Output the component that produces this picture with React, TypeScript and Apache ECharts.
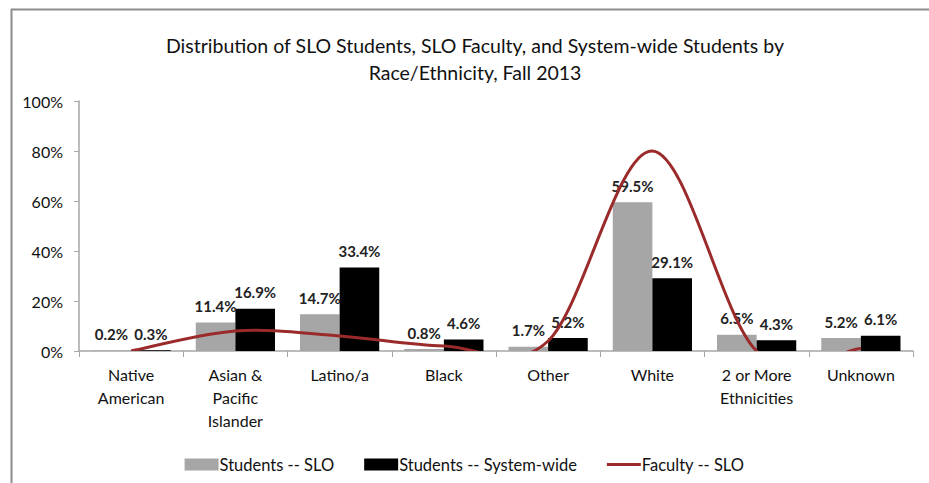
import React, { useEffect, useRef } from "react";
import * as echarts from "echarts";

const categories = [
  "Native\nAmerican",
  "Asian &\nPacific\nIslander",
  "Latino/a",
  "Black",
  "Other",
  "White",
  "2 or More\nEthnicities",
  "Unknown",
];
const studentsSLO = [0.2, 11.4, 14.7, 0.8, 1.7, 59.5, 6.5, 5.2];
const studentsSystem = [0.3, 16.9, 33.4, 4.6, 5.2, 29.1, 4.3, 6.1];
const facultySLO = [0, 8, 6, 2, 4, 80, 0, 1];
const yTicks = [0, 20, 40, 60, 80, 100];

const FONT = "Lato, 'Open Sans', sans-serif";
const RED = "#9b2b2b";

export default function App() {
  const ref = useRef<HTMLDivElement>(null);
  useEffect(() => {
    document.body.style.margin = "0";
    const chart = echarts.init(ref.current!, null, { renderer: "svg" });
    const labelCfg = {
      show: true,
      position: "top" as const,
      distance: 9,
      formatter: (p: any) => p.value.toFixed(1) + "%",
      fontFamily: FONT,
      fontWeight: "bold" as const,
      fontSize: 15,
      color: "#222",
    };
    chart.setOption({
      animation: false,
      backgroundColor: "#fff",
      title: {
        text: "Distribution of SLO Students, SLO Faculty, and System-wide Students by\nRace/Ethnicity, Fall 2013",
        left: 470,
        top: 27,
        textAlign: "center",
        textStyle: {
          fontFamily: FONT,
          fontWeight: "normal",
          fontSize: 19.5,
          lineHeight: 27,
          color: "#111",
        },
      },
      graphic: [
        { type: "line", shape: { x1: 11, y1: 9.5, x2: 929, y2: 9.5 }, style: { stroke: "#8c8c8c", lineWidth: 2 } },
        { type: "line", shape: { x1: 11.5, y1: 9, x2: 11.5, y2: 483 }, style: { stroke: "#8c8c8c", lineWidth: 2 } },
      ],
      grid: { left: 79, right: 16, top: 101, bottom: 132, containLabel: false },
      legend: {
        top: 451,
        left: "center",
        itemWidth: 34,
        itemHeight: 12,
        itemGap: 30,
        textStyle: { fontFamily: FONT, fontSize: 16.5, color: "#111", padding: [0, 0, 0, -4] },
        data: [
          { name: "Students -- SLO", icon: "rect" },
          { name: "Students -- System-wide", icon: "rect" },
          { name: "Faculty -- SLO", icon: "path://M0,0 L34,0 L34,3 L0,3 Z", itemStyle: { color: RED } },
        ],
      },
      xAxis: {
        type: "category",
        data: categories,
        axisLine: { lineStyle: { color: "#a6a6a6", width: 1.5 } },
        axisTick: { show: true, length: 6, lineStyle: { color: "#a6a6a6" } },
        axisLabel: {
          fontFamily: FONT,
          fontSize: 16,
          lineHeight: 23,
          color: "#111",
          margin: 12,
          interval: 0,
        },
      },
      yAxis: {
        type: "value",
        min: yTicks[0],
        max: yTicks[yTicks.length - 1],
        interval: 20,
        splitLine: { show: false },
        axisLine: { show: true, lineStyle: { color: "#a6a6a6", width: 1.5 } },
        axisTick: { show: true, length: 5, lineStyle: { color: "#a6a6a6" } },
        axisLabel: {
          formatter: "{value}%",
          fontFamily: FONT,
          fontSize: 16,
          color: "#111",
          margin: 16,
        },
      },
      series: [
        {
          name: "Students -- SLO",
          type: "bar",
          data: studentsSLO,
          barGap: "0%",
          barCategoryGap: "24%",
          itemStyle: { color: "#a6a6a6" },
          label: labelCfg,
          z: 2,
        },
        {
          name: "Students -- System-wide",
          type: "bar",
          data: studentsSystem,
          itemStyle: { color: "#000" },
          label: labelCfg,
          z: 2,
        },
        {
          name: "Faculty -- SLO",
          type: "custom",
          data: facultySLO.map((v, i) => [i, v]),
          encode: { x: 0, y: 1 },
          clip: true,
          z: 3,
          itemStyle: { color: RED },
          renderItem: (params: any, api: any) => {
            if (params.dataIndex !== 0) return { type: "group", children: [] };
            const pts = facultySLO.map((v, i) => api.coord([i, v]));
            const n = pts.length;
            const P = (k: number) => pts[Math.max(0, Math.min(n - 1, k))];
            let d = `M${pts[0][0]},${pts[0][1]}`;
            for (let i = 0; i < n - 1; i++) {
              const p0 = P(i - 1), p1 = P(i), p2 = P(i + 1), p3 = P(i + 2);
              const c1x = p1[0] + (p2[0] - p0[0]) / 6;
              const c1y = p1[1] + (p2[1] - p0[1]) / 6;
              const c2x = p2[0] - (p3[0] - p1[0]) / 6;
              const c2y = p2[1] - (p3[1] - p1[1]) / 6;
              d += ` C${c1x},${c1y} ${c2x},${c2y} ${p2[0]},${p2[1]}`;
            }
            const cs = params.coordSys;
            return {
              type: "path",
              shape: { pathData: d },
              style: { fill: "none", stroke: RED, lineWidth: 3 },
              clipPath: { type: "rect", shape: { x: cs.x, y: cs.y, width: cs.width, height: cs.height } },
            };
          },
        },
      ],
    });
    return () => chart.dispose();
  }, []);
  return <div ref={ref} style={{ width: 929, height: 483 }} />;
}
